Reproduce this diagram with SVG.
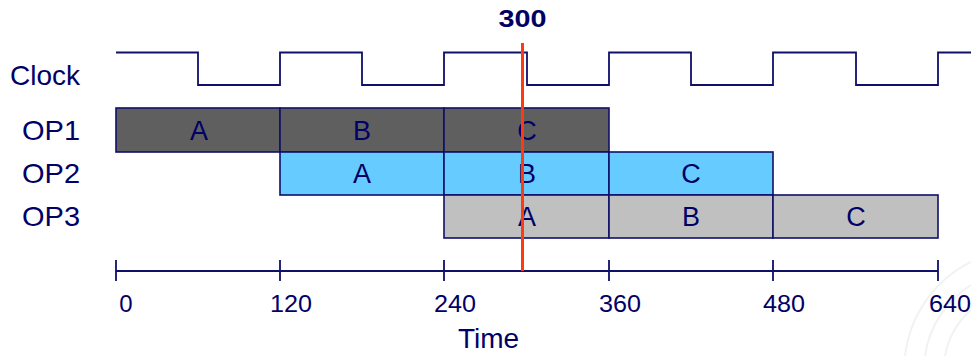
<svg xmlns="http://www.w3.org/2000/svg" width="971" height="356" viewBox="0 0 971 356">
<style>
.t{font-family:"Liberation Sans",Arial,sans-serif;fill:#000066}
.lbl{font-size:28px}
.box{stroke:#10106a;stroke-width:1.6}
.dk{fill:#5f5f5f}
.bl{fill:#66ccff}
.gr{fill:#c0c0c0}
.ln{fill:none;stroke:#10106a;stroke-width:1.8}
.num{font-size:24px;text-anchor:middle}
.bx{font-size:27px;text-anchor:middle}
</style>
<rect width="971" height="356" fill="#ffffff"/>
<g id="watermark" fill="none" stroke="#f2f2f4" stroke-width="2">
<path d="M905,356 A120,120 0 0 1 971,262"/>
<path d="M925,356 A100,100 0 0 1 971,285"/>
<path d="M945,356 A80,80 0 0 1 971,310"/>
</g>
<g id="labels">
<text class="t lbl" x="10" y="85" font-size="29">Clock</text>
<text class="t lbl" x="22" y="140" textLength="58" lengthAdjust="spacingAndGlyphs">OP1</text>
<text class="t lbl" x="22" y="183" textLength="58" lengthAdjust="spacingAndGlyphs">OP2</text>
<text class="t lbl" x="22" y="226" textLength="58" lengthAdjust="spacingAndGlyphs">OP3</text>
</g>
<g id="clock">
<path class="ln" d="M116,52.5 H198 V85 H280 V52.5 H362 V85 H444 V52.5 H527 V85 H609 V52.5 H691 V85 H773 V52.5 H856 V85 H938 V52.5 H971"/>
</g>
<g id="op1">
<rect class="box dk" x="116" y="108" width="164" height="44"/>
<rect class="box dk" x="280" y="108" width="164" height="44"/>
<rect class="box dk" x="444" y="108" width="165" height="44"/>
<text class="t bx" x="199" y="140">A</text>
<text class="t bx" x="362" y="140">B</text>
<text class="t bx" x="527" y="140">C</text>
</g>
<g id="op2">
<rect class="box bl" x="280" y="152" width="164" height="43"/>
<rect class="box bl" x="444" y="152" width="165" height="43"/>
<rect class="box bl" x="609" y="152" width="164" height="43"/>
<text class="t bx" x="362" y="183">A</text>
<text class="t bx" x="527" y="183">B</text>
<text class="t bx" x="691" y="183">C</text>
</g>
<g id="op3">
<rect class="box gr" x="444" y="195" width="165" height="43"/>
<rect class="box gr" x="609" y="195" width="164" height="43"/>
<rect class="box gr" x="773" y="195" width="165" height="43"/>
<text class="t bx" x="527" y="226">A</text>
<text class="t bx" x="691" y="226">B</text>
<text class="t bx" x="856" y="226">C</text>
</g>
<g id="axis">
<path class="ln" d="M116,271 H938 M116,260 V281 M280,260 V281 M444,260 V281 M609,260 V281 M773,260 V281 M938,260 V281"/>
<text class="t num" x="126" y="312">0</text>
<text class="t num" x="291" y="312" textLength="42" lengthAdjust="spacingAndGlyphs">120</text>
<text class="t num" x="455" y="312" textLength="42" lengthAdjust="spacingAndGlyphs">240</text>
<text class="t num" x="620" y="312" textLength="42" lengthAdjust="spacingAndGlyphs">360</text>
<text class="t num" x="784" y="312" textLength="42" lengthAdjust="spacingAndGlyphs">480</text>
<text class="t num" x="950" y="312" textLength="42" lengthAdjust="spacingAndGlyphs">640</text>
<text class="t" x="488.5" y="348" font-size="28" text-anchor="middle">Time</text>
</g>
<g id="marker300">
<line x1="522.5" y1="43" x2="522.5" y2="271" stroke="#ff3a12" stroke-width="3"/>
<text class="t" x="522.5" y="27" font-size="23" font-weight="bold" text-anchor="middle" textLength="48" lengthAdjust="spacingAndGlyphs">300</text>
</g>
</svg>
